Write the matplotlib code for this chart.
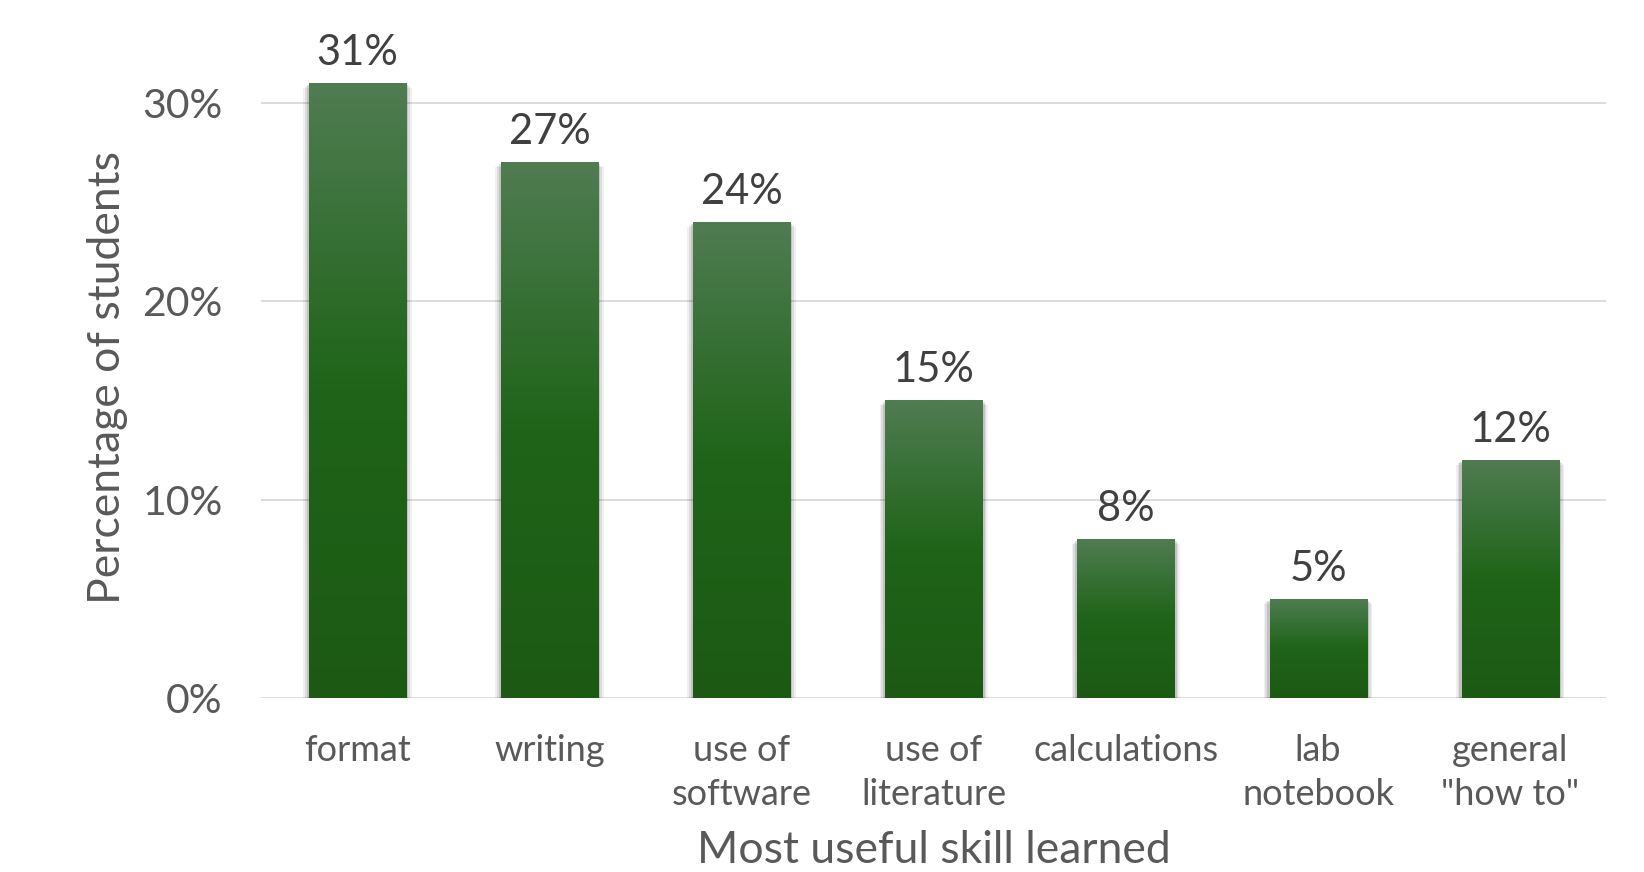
import numpy as np
import matplotlib.pyplot as plt
from matplotlib.colors import LinearSegmentedColormap
from matplotlib.patches import Rectangle

# datos
categorias = ['format', 'writing', 'use of\nsoftware', 'use of\nliterature',
              'calculations', 'lab\nnotebook', 'general\n"how to"']
porcentajes = [31, 27, 24, 15, 8, 5, 12]
etiquetas = ['31%', '27%', '24%', '15%', '8%', '5%', '12%']
ticks_y = [0, 10, 20, 30]

plt.rcParams['font.family'] = ['Lato', 'DejaVu Sans']

fig = plt.figure(figsize=(16.44, 8.72), dpi=100)
ax = fig.add_axes([0.159, 0.1995, 0.818, 0.735])

x = np.arange(len(categorias))
ancho = 0.505

# degradado verde como en Excel
cmap = LinearSegmentedColormap.from_list(
    'verde', [(0.0, '#1c5a14'), (0.5, '#1f6418'), (0.62, '#2a6a26'), (1.0, '#507c52')])
grad = np.linspace(0, 1, 256).reshape(-1, 1)

barras = ax.bar(x, porcentajes, width=ancho, color='none', zorder=3)
for b in barras:
    x0, w, h = b.get_x(), b.get_width(), b.get_height()
    # sombra suave
    for k, a in zip([0.05, 0.035, 0.02], [0.06, 0.08, 0.12]):
        ax.add_patch(Rectangle((x0 - k * 0.6, -0.25 * k / 0.05), w + 2 * k * 0.6, h,
                               facecolor='black', alpha=a, lw=0, zorder=2))
    im = ax.imshow(grad, cmap=cmap, aspect='auto', origin='lower',
                   extent=[x0, x0 + w, 0, h], zorder=3)
    im.set_clip_path(b)

for xi, v, t in zip(x, porcentajes, etiquetas):
    ax.text(xi, v + 0.55, t, ha='center', va='bottom', fontsize=30, color='#404040')

ax.set_xlim(-0.5, len(categorias) - 0.5)
ax.set_ylim(0, 32.3)
ax.set_yticks(ticks_y)
ax.set_yticklabels([f'{t}%' for t in ticks_y])
ax.set_xticks(x)
ax.set_xticklabels(categorias, fontsize=26, color='#595959', linespacing=1.4)
ax.tick_params(axis='y', labelsize=29.5, labelcolor='#595959', length=0, pad=28)
ax.tick_params(axis='x', length=0, pad=26)

ax.grid(axis='y', color='#d9d9d9', linewidth=1.3, zorder=0)
ax.set_axisbelow(True)
for s in ['top', 'right', 'left', 'bottom']:
    ax.spines[s].set_visible(False)

ax.set_xlabel('Most useful skill learned', fontsize=32, color='#595959', labelpad=14)
ax.set_ylabel('Percentage of students', fontsize=32, color='#595959', labelpad=10)

fig.savefig('out.png', dpi=100, facecolor='white')
